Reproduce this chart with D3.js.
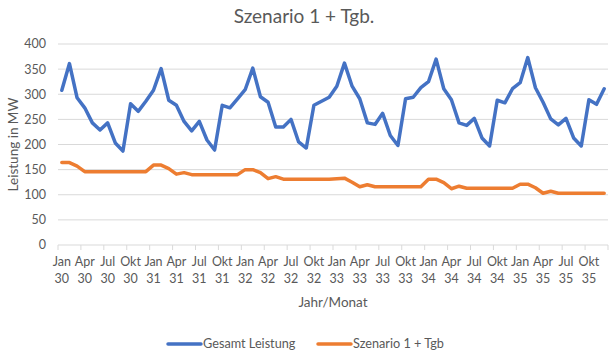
<!DOCTYPE html>
<html>
<head>
<meta charset="utf-8">
<script src="https://cdn.jsdelivr.net/npm/d3@7.9.0/dist/d3.min.js"></script>
<style>
  body { margin: 0; background: #fff; }
  svg { font-family: Lato, "Noto Sans", sans-serif; }
</style>
</head>
<body>
<svg id="chart" width="613" height="354"></svg>
<script>
const monthNames = ['Jan', 'Feb', 'Mrz', 'Apr', 'Mai', 'Jun', 'Jul', 'Aug', 'Sep', 'Okt', 'Nov', 'Dez'];
const years = ['30', '31', '32', '33', '34', '35'];

const gesamtLeistung = [
  308, 361, 293, 273, 243, 229, 243, 203, 187, 281, 266, 286,
  308, 351, 288, 278, 246, 227, 246, 209, 189, 278, 273, 291,
  309, 352, 295, 284, 235, 235, 250, 205, 193, 278, 286, 294,
  316, 362, 316, 291, 243, 240, 262, 218, 198, 291, 294, 313,
  325, 370, 311, 289, 243, 238, 252, 213, 197, 288, 283, 311,
  323, 373, 313, 284, 251, 239, 252, 213, 197, 289, 280, 311
];

const szenario = [
  164, 164, 157, 146, 146, 146, 146, 146, 146, 146, 146, 146,
  159, 159, 152, 141, 144, 140, 140, 140, 140, 140, 140, 140,
  150, 150, 144, 132, 136, 131, 131, 131, 131, 131, 131, 131,
  132, 133, 125, 116, 120, 116, 116, 116, 116, 116, 116, 116,
  131, 131, 124, 112, 117, 113, 113, 113, 113, 113, 113, 113,
  121, 121, 114, 103, 107, 103, 103, 103, 103, 103, 103, 103
];

const yTicks = [0, 50, 100, 150, 200, 250, 300, 350, 400];

const categories = years.flatMap(y => monthNames.map(m => ({ month: m, year: y })));

const series = [
  { name: 'Gesamt Leistung', values: gesamtLeistung, color: '#4472C4' },
  { name: 'Szenario 1 + Tgb', values: szenario, color: '#ED7D31' }
];

const margin = { top: 44, right: 5, bottom: 109, left: 58 };
const width = 613;
const height = 354;

const svg = d3.select('#chart');
const textColor = '#595959';
const gridColor = '#d9d9d9';

const x = d3.scaleBand()
  .domain(d3.range(categories.length))
  .range([margin.left, width - margin.right]);

const y = d3.scaleLinear()
  .domain([0, 400])
  .range([height - margin.bottom, margin.top]);

const cx = i => x(i) + x.bandwidth() / 2;

// gridlines
svg.append('g')
  .selectAll('line')
  .data(yTicks.filter(d => d > 0))
  .join('line')
  .attr('x1', margin.left)
  .attr('x2', width - margin.right)
  .attr('y1', d => y(d))
  .attr('y2', d => y(d))
  .attr('stroke', gridColor)
  .attr('stroke-width', 1);

// y axis labels
svg.append('g')
  .selectAll('text')
  .data(yTicks)
  .join('text')
  .attr('x', margin.left - 12)
  .attr('y', d => y(d))
  .attr('dy', '0.35em')
  .attr('text-anchor', 'end')
  .attr('font-size', 12.5)
  .attr('fill', textColor)
  .text(d => d);

// x axis line + ticks
const axisY = y(0);
svg.append('line')
  .attr('x1', margin.left)
  .attr('x2', width - margin.right)
  .attr('y1', axisY)
  .attr('y2', axisY)
  .attr('stroke', gridColor);

const tickIdx = d3.range(0, categories.length + 1, 3);
svg.append('g')
  .selectAll('line')
  .data(tickIdx)
  .join('line')
  .attr('x1', d => d < categories.length ? x(d) : width - margin.right)
  .attr('x2', d => d < categories.length ? x(d) : width - margin.right)
  .attr('y1', axisY)
  .attr('y2', axisY + 5)
  .attr('stroke', gridColor);

const labelled = d3.range(0, categories.length, 3);
const xl = svg.append('g')
  .selectAll('text')
  .data(labelled)
  .join('text')
  .attr('text-anchor', 'middle')
  .attr('font-size', 12.5)
  .attr('fill', textColor);
xl.append('tspan')
  .attr('x', d => cx(d))
  .attr('y', axisY + 21)
  .text(d => categories[d].month);
xl.append('tspan')
  .attr('x', d => cx(d))
  .attr('y', axisY + 38)
  .text(d => categories[d].year);

// axis titles
svg.append('text')
  .attr('x', (margin.left + width - margin.right) / 2)
  .attr('y', 307)
  .attr('text-anchor', 'middle')
  .attr('font-size', 13.5)
  .attr('fill', textColor)
  .text('Jahr/Monat');

svg.append('text')
  .attr('transform', `translate(18, ${(margin.top + axisY) / 2}) rotate(-90)`)
  .attr('text-anchor', 'middle')
  .attr('font-size', 13.5)
  .attr('fill', textColor)
  .text('Leistung in MW');

// title
svg.append('text')
  .attr('x', 304)
  .attr('y', 23)
  .attr('text-anchor', 'middle')
  .attr('font-size', 19)
  .attr('fill', textColor)
  .text('Szenario 1 + Tgb.');

// lines
const line = d3.line()
  .x((d, i) => cx(i))
  .y(d => y(d));

svg.append('g')
  .selectAll('path')
  .data(series)
  .join('path')
  .attr('d', d => line(d.values))
  .attr('fill', 'none')
  .attr('stroke', d => d.color)
  .attr('stroke-width', 3.5)
  .attr('stroke-linejoin', 'round')
  .attr('stroke-linecap', 'round');

// legend
const legendX = [168, 318];
const legend = svg.append('g')
  .selectAll('g')
  .data(series)
  .join('g')
  .attr('transform', (d, i) => `translate(${legendX[i]}, 344)`);
legend.append('line')
  .attr('x1', 0)
  .attr('x2', 33)
  .attr('stroke', d => d.color)
  .attr('stroke-width', 3.5)
  .attr('stroke-linecap', 'round');
legend.append('text')
  .attr('x', 35)
  .attr('dy', '0.35em')
  .attr('font-size', 12.7)
  .attr('fill', textColor)
  .text(d => d.name);
</script>
</body>
</html>
